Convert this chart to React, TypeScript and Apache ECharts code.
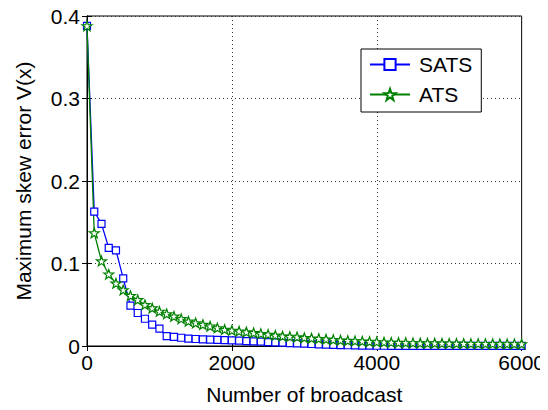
import React, { useEffect, useRef } from "react";
import * as echarts from "echarts";

const broadcasts: number[] = [];
for (let i = 0; i <= 60; i++) broadcasts.push(i * 100);

const satsValues = [
  0.388, 0.163, 0.148, 0.119, 0.116, 0.082, 0.049, 0.040, 0.033, 0.026,
  0.021, 0.012, 0.011, 0.010, 0.009, 0.0085, 0.008, 0.0077, 0.0074, 0.0071,
  0.0068, 0.0064, 0.006, 0.0056, 0.0052, 0.0048, 0.0044, 0.004, 0.0036, 0.0032,
  0.0028, 0.0024, 0.002, 0.0017, 0.0014, 0.0011, 0.0009, 0.0007, 0.0005, 0.0004,
  0.0003, 0.0003, 0.0002, 0.0002, 0.0002, 0.0002, 0.0001, 0.0001, 0.0001, 0.0001,
  0.0001, 0.0001, 0.0001, 0.0001, 0.0001, 0.0001, 0.0001, 0.0001, 0.0001, 0.0001,
  0.0001,
];

const atsValues = [
  0.388, 0.137, 0.103, 0.087, 0.076, 0.068, 0.061, 0.056, 0.050, 0.046,
  0.042, 0.039, 0.036, 0.033, 0.030, 0.028, 0.026, 0.024, 0.022, 0.020,
  0.019, 0.018, 0.017, 0.016, 0.015, 0.014, 0.013, 0.012, 0.0115, 0.011,
  0.010, 0.0095, 0.009, 0.0083, 0.0077, 0.0071, 0.0066, 0.0062, 0.0058, 0.0054,
  0.005, 0.0047, 0.0044, 0.0042, 0.004, 0.0038, 0.0036, 0.0035, 0.0034, 0.0033,
  0.0032, 0.0031, 0.003, 0.0029, 0.0029, 0.0028, 0.0027, 0.0027, 0.0026, 0.0026,
  0.0025,
];

const xTicks = ["0", "2000", "4000", "6000"];
const yTicks = ["0", "0.1", "0.2", "0.3", "0.4"];

const STAR =
  "path://M0,-10 L2.35,-3.24 L9.51,-3.09 L3.8,1.24 L5.88,8.09 L0,4 L-5.88,8.09 L-3.8,1.24 L-9.51,-3.09 L-2.35,-3.24 Z";

const FONT = "Liberation Sans, Arial, sans-serif";

export default function App() {
  const ref = useRef<HTMLDivElement>(null);
  useEffect(() => {
    if (!ref.current) return;
    const chart = echarts.init(ref.current, undefined, { renderer: "svg" });
    const grid = { left: 87, right: 26, top: 16, bottom: 62 };
    const tickStyle = { show: true, inside: true, length: 5, lineStyle: { color: "#000" } };
    const split = { show: true, lineStyle: { color: "#333", type: [1, 3] as any, width: 1 } };
    chart.setOption({
      animation: false,
      backgroundColor: "#fff",
      textStyle: { fontFamily: FONT },
      grid: { ...grid, show: true, borderColor: "#000", borderWidth: 1, backgroundColor: "transparent" },
      legend: {
        orient: "vertical",
        left: 361,
        top: 49,
        width: 120,
        backgroundColor: "#fff",
        borderColor: "#000",
        borderWidth: 1,
        padding: [5, 9, 7, 8],
        itemWidth: 40,
        itemHeight: 14,
        itemGap: 9,
        textStyle: { fontSize: 21, color: "#000", fontFamily: FONT, padding: [0, 0, 0, 4] },
        data: ["SATS", "ATS"],
      },
      xAxis: [
        {
          type: "value",
          min: 0,
          max: 6000,
          interval: 2000,
          name: "Number of broadcast",
          nameLocation: "middle",
          nameGap: 38,
          nameTextStyle: { fontSize: 21, color: "#000", fontFamily: FONT },
          axisLine: { show: true, lineStyle: { color: "#000" } },
          axisTick: tickStyle,
          axisLabel: {
            fontSize: 21,
            color: "#000",
            margin: 6,
            fontFamily: FONT,
            formatter: (v: number) => xTicks[Math.round(v / 2000)] ?? String(v),
          },
          splitLine: split,
        },
        {
          type: "value",
          position: "top",
          min: 0,
          max: 6000,
          interval: 2000,
          axisLine: { show: true, lineStyle: { color: "#000" } },
          axisTick: tickStyle,
          axisLabel: { show: false },
          splitLine: { show: false },
        },
      ],
      yAxis: [
        {
          type: "value",
          min: 0,
          max: 0.4,
          interval: 0.1,
          name: "Maximum skew error V(x)",
          nameLocation: "middle",
          nameGap: 53,
          nameTextStyle: { fontSize: 21, color: "#000", fontFamily: FONT },
          axisLine: { show: true, lineStyle: { color: "#000" } },
          axisTick: tickStyle,
          axisLabel: {
            fontSize: 21,
            color: "#000",
            margin: 7,
            fontFamily: FONT,
            formatter: (v: number) => yTicks[Math.round(v * 10)] ?? String(v),
          },
          splitLine: split,
        },
        {
          type: "value",
          position: "right",
          min: 0,
          max: 0.4,
          interval: 0.1,
          axisLine: { show: true, lineStyle: { color: "#000" } },
          axisTick: tickStyle,
          axisLabel: { show: false },
          splitLine: { show: false },
        },
      ],
      series: [
        {
          name: "SATS",
          type: "line",
          data: broadcasts.map((x, i) => [x, satsValues[i]]),
          symbol: "rect",
          symbolSize: 7,
          showAllSymbol: true,
          lineStyle: { color: "#0000ff", width: 1.3 },
          itemStyle: { color: "#fff", borderColor: "#0000ff", borderWidth: 1.2 },
          emphasis: { disabled: true },
        },
        {
          name: "ATS",
          type: "line",
          data: broadcasts.map((x, i) => [x, atsValues[i]]),
          symbol: STAR,
          symbolKeepAspect: true,
          symbolSize: 10,
          showAllSymbol: true,
          lineStyle: { color: "#008000", width: 1.3 },
          itemStyle: { color: "#fff", borderColor: "#008000", borderWidth: 1.2 },
          emphasis: { disabled: true },
        },
      ],
    });
    return () => chart.dispose();
  }, []);
  return <div ref={ref} style={{ width: 548, height: 410, margin: -8 }} />;
}
